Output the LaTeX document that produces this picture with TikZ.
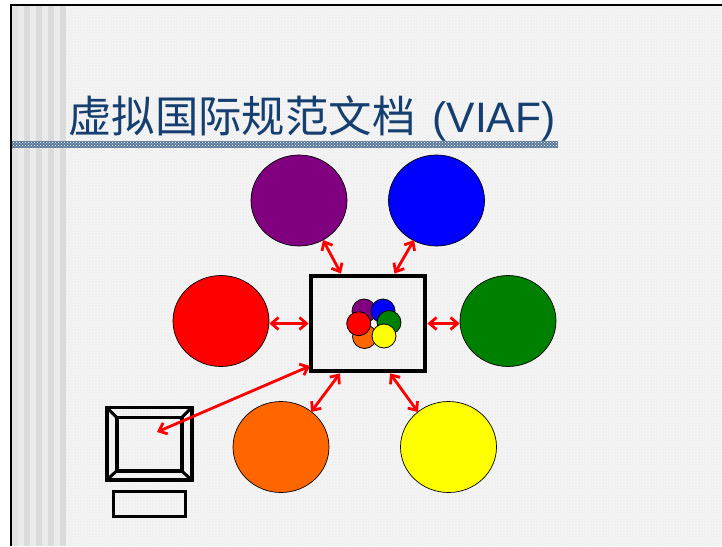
\documentclass[tikz,border=0pt]{standalone}
\usepackage{fontspec}
\setmainfont{Liberation Sans}
\newfontfamily\cjk{Noto Sans CJK SC}
\usetikzlibrary{shapes.geometric,arrows.meta,patterns,positioning}
\definecolor{titleblue}{HTML}{153F70}
\definecolor{viafpurple}{HTML}{800080}
\definecolor{viafblue}{HTML}{0000FF}
\definecolor{viafred}{HTML}{FF0000}
\definecolor{viafgreen}{HTML}{008000}
\definecolor{viaforange}{HTML}{FF6600}
\definecolor{viafyellow}{HTML}{FFFF00}
\begin{document}
\begin{tikzpicture}[x=1pt, y=-1pt, >={Straight Barb[length=7pt,width=12pt]}]
\tikzstyle{disc}=[ellipse,draw=black,line width=0.7pt,minimum width=96pt,minimum height=91pt,inner sep=0pt]
\tikzstyle{petal}=[circle,draw=black,line width=0.8pt,minimum size=24pt,inner sep=0pt]
\tikzstyle{frame}=[rectangle,draw=black,inner sep=0pt]
\tikzstyle{link}=[<->,draw=viafred,line width=2.8pt]
\useasboundingbox (0,0) rectangle (722,546);
% background
\fill[white] (0,0) rectangle (722,546);
\fill[black!6] (12,6) rectangle (722,546);
\fill[pattern=crosshatch dots,pattern color=white] (65,6) rectangle (722,546);
\foreach \x/\c in {12/11,18/8,24/14,30/8,36/14,42/8,48/14,54/8,60/14}
  \fill[black!\c] (\x,6) rectangle ++(6,540);
\draw[black,line width=2pt] (11,546) -- (11,5) -- (722,5);
% title
\node (title) [anchor=base west,inner sep=0pt,text=titleblue] at (68,132)
  {{\cjk\fontsize{43.4}{44}\selectfont 虚拟国际规范文档}\hspace{17pt}{\fontsize{42.6}{44}\selectfont (VIAF)}};
\fill[titleblue!70] (12,141) rectangle (558,148);
\fill[pattern=crosshatch dots,pattern color=white] (12,141) rectangle (558,148);
% databases
\node[disc,fill=viafpurple] (purple) at (299,200.5) {};
\node[disc,fill=viafblue]   (blue)   at (436.5,200.5) {};
\node[disc,fill=viafred]    (red)    at (221,321) {};
\node[disc,fill=viafgreen]  (green)  at (508,321) {};
\node[disc,fill=viaforange] (orange) at (281,447) {};
\node[disc,fill=viafyellow] (yellow) at (448.5,447) {};
% central file
\node[frame,line width=4.8pt,minimum width=114pt,minimum height=95pt] (file) at (368,323.5) {};
\foreach \n/\c/\px/\py in {p1/viafpurple/364/311,p2/viafblue/383/311,p3/viafgreen/389/322.5,p4/viaforange/364.5/336.5,p5/viafyellow/384/336,p6/viafred/358.7/323.7}
  \node[petal,fill=\c] (\n) at (\px,\py) {};
% monitor
\node[frame,outer sep=0pt,line width=3.6pt,minimum width=85pt,minimum height=72.5pt] (screen) at (149.2,443.7) {};
\node[frame,outer sep=0pt,line width=3.6pt,minimum width=65pt,minimum height=53.5pt] (glass) at (149.2,444.2) {};
\node[frame,line width=3pt,minimum width=72.5pt,minimum height=24.5pt] (base) at (149.5,503.8) {};
\foreach \a in {north west,north east,south west,south east}
  \draw[black,line width=3pt] (screen.\a) -- (glass.\a);
\coordinate (cursor) at (157,432);
\coordinate (fileport) at (310,366);
% links
\draw[link] (file.north -| 341,0) -- (323,240);
\draw[link] (file.north -| 394.5,0) -- (414,240);
\draw[link] (file.west) -- (red.east |- file.west);
\draw[link] (file.east) -- (green.west |- file.east);
\draw[link] (file.south -| 340,0) -- (311,412);
\draw[link] (file.south -| 390,0) -- (418,412);
\draw[link] (fileport) -- (cursor);
\end{tikzpicture}
\end{document}
